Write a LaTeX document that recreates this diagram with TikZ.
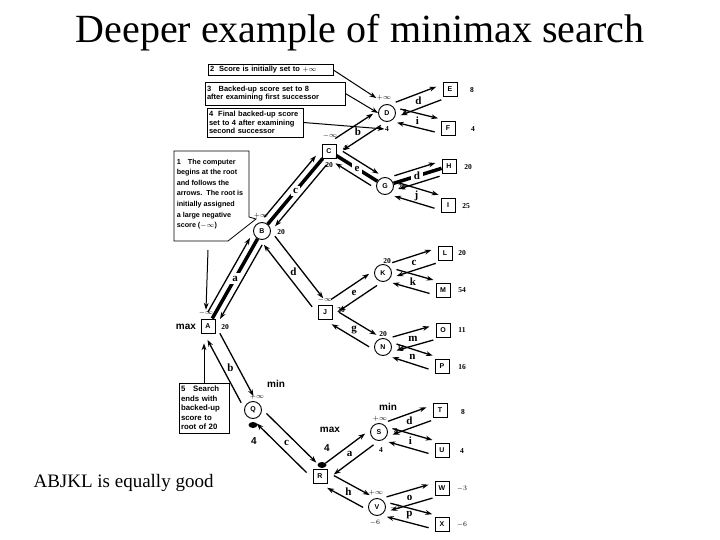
\documentclass[tikz,border=0pt]{standalone}
\usepackage{fontspec}
\setmainfont{Liberation Serif}
\setsansfont{Liberation Sans}
\usetikzlibrary{calc,arrows.meta}

\begin{document}
\begin{tikzpicture}[x=1pt,y=-1pt,
  >={Stealth[length=2.4mm,width=1.7mm]},
  sq/.style={draw,line width=0.9pt,minimum size=14pt,inner sep=0pt,font=\sffamily\bfseries\fontsize{7}{7}\selectfont},
  ci/.style={draw,circle,line width=0.9pt,minimum size=17pt,inner sep=0pt,font=\sffamily\bfseries\fontsize{7}{7}\selectfont},
  val/.style={inner sep=0.5pt,font=\bfseries\fontsize{7.5}{8}\selectfont},
  elab/.style={fill=white,inner sep=2.5pt,font=\bfseries\fontsize{11}{11}\selectfont},
  note/.style={draw,line width=0.8pt,fill=white,inner sep=2pt,align=left,font=\sffamily\bfseries\fontsize{7.5}{8.5}\selectfont},
  hand/.style={inner sep=0pt,font=\sffamily\bfseries\fontsize{10}{10}\selectfont},
  ar/.style={->,line width=1.3pt},
  ptr/.style={->,line width=1pt},
  best/.style={line width=3.5pt}
]
\fill[white] (0,0) rectangle (720,540);
\useasboundingbox (0,0) rectangle (720,540);

% titles
\node[font=\fontsize{40}{44}\selectfont] (title) at (360,33) {Deeper example of minimax search};
\node[anchor=west,font=\fontsize{19}{22}\selectfont] (remark) at (30,483) {ABJKL is equally good};

% CALLOUT 1 (drawn first, the tree lies over its corner)
\draw[line width=0.8pt,fill=white] (174,151) -- (249,151) -- (249,217) -- (256,219) -- (228,241) -- (174,241) -- cycle;
\node[align=left,inner sep=0pt,font=\sffamily\bfseries\fontsize{7.2}{10.6}\selectfont] (n1) at (210,194)
  {1\quad The computer\\begins at the root\\and follows the\\arrows.\ \ The root is\\initially assigned\\a large negative\\score ($-\infty$)};

% TREE: squares are max nodes, circles are min nodes
\node[sq] (A) at (208,326) {A};
\node[ci] (B) at (262,231) {B};
\node[sq] (C) at (329,151) {C};
\node[ci] (D) at (387,113) {D};
\node[sq] (E) at (450,89) {E};
\node[sq] (F) at (448,128) {F};
\node[ci] (G) at (385,186) {G};
\node[sq] (H) at (449,166) {H};
\node[sq] (I) at (448,205) {I};
\node[sq] (J) at (325,312) {J};
\node[ci] (K) at (383,273) {K};
\node[sq] (L) at (445,253) {L};
\node[sq] (M) at (443,290) {M};
\node[ci] (N) at (383,347) {N};
\node[sq] (O) at (443,330) {O};
\node[sq] (P) at (442,366) {P};
\node[ci] (Q) at (253,410) {Q};
\node[sq] (R) at (320,476) {R};
\node[ci] (S) at (379,432) {S};
\node[sq] (T) at (440,410) {T};
\node[sq] (U) at (442,450) {U};
\node[ci] (V) at (377,507) {V};
\node[sq] (W) at (442,488) {W};
\node[sq] (X) at (442,524) {X};

% backed-up values
\node[val] (Ainf) at (206,313) {$-\infty$}; \node[val] (Aval) at (225,327) {20};
\node[val] (Binf) at (261,216) {$+\infty$}; \node[val] (Bval) at (281,232) {20};
\node[val] (Cinf) at (330,136) {$-\infty$}; \node[val] (Cval) at (329,165) {20}; \node[val] (Cnew) at (345,148) {4};
\node[val] (Dinf) at (384,98) {$+\infty$}; \node[val] (Dfst) at (405,112) {8}; \node[val] (Dval) at (387,129) {4};
\node[val] (Gval) at (402,187) {20};
\node[val] (Jinf) at (325,300) {$-\infty$}; \node[val] (Jval) at (341,310) {20};
\node[val] (Kval) at (387,261) {20};
\node[val] (Nval) at (383,334) {20}; \node[val] (Nnew) at (401,348) {11};
\node[val] (Qinf) at (257,397) {$+\infty$};
\node[val] (Sinf) at (380,419) {$+\infty$}; \node[val] (Sfst) at (396,431) {8}; \node[val] (Sval) at (381,450) {4};
\node[val] (Vinf) at (376,493) {$+\infty$}; \node[val] (Vfst) at (395,508) {$-3$}; \node[val] (Vval) at (375,523) {$-6$};
% leaf scores
\node[val] (Eval) at (472,90) {8};   \node[val] (Fval) at (473,129) {4};
\node[val] (Hval) at (468,167) {20};  \node[val] (Ival) at (466,206) {25};
\node[val] (Lval) at (462,253) {20};  \node[val] (Mval) at (462,290) {54};
\node[val] (Oval) at (462,330) {11};  \node[val] (Pval) at (462,367) {16};
\node[val] (Tval) at (463,412) {8};   \node[val] (Uval) at (462,451) {4};
\node[val] (Wval) at (462,489) {$-3$}; \node[val] (Xval) at (462,525) {$-6$};

% pencil notes
\node[hand] (hA) at (186,327) {max};
\node[hand] (hQ) at (276,384) {min};
\node[hand] (hQ4) at (254,441) {4};
\node[hand] (hR) at (330,430) {max};
\node[hand] (hR4) at (327,448) {4};
\node[hand] (hS) at (388,407) {min};
\fill (253,425) ellipse (4.5 and 3);
\fill (322,465) ellipse (4.5 and 3);

% best line of play
\draw[best] (A) -- (B);
\draw[best] (B) -- (C);
\draw[best] (C) -- (G);
\draw[best] (G) -- (H);

% each branch: down arrow on one side, back-up arrow on the other
\foreach \from/\to/\lab in {A/B/a, A/Q/b, B/C/c, B/J/d, C/D/b, C/G/e, D/E/d, D/F/i,
    G/H/d, G/I/j, J/K/e, J/N/g, K/L/c, K/M/k, N/O/m, N/P/n,
    Q/R/c, R/S/a, R/V/h, S/T/d, S/U/i, V/W/o, V/X/p}{
  \node[elab] (l\from\to) at ($(\from)!0.5!(\to)$) {\lab};
  \coordinate (s\from\to) at ($(\from)!12pt!(\to)$);
  \coordinate (t\from\to) at ($(\to)!12pt!(\from)$);
  \draw[ar] let \p1=($(t\from\to)-(s\from\to)$), \n1={atan2(\y1,\x1)} in
    ($(s\from\to)+(\n1+90:7pt)$) -- ($(t\from\to)+(\n1+90:7pt)$);
  \draw[ar] let \p1=($(t\from\to)-(s\from\to)$), \n1={atan2(\y1,\x1)} in
    ($(t\from\to)+(\n1-90:7pt)$) -- ($(s\from\to)+(\n1-90:7pt)$);
}

% CALLOUTS 2-5
\coordinate (n1s) at (208,250);
\draw[ptr] (n1s) -- (Ainf.north);

\node[note,text width=121pt] (n2) at (270.5,70) {2\ \ Score is initially set to $+\infty$};
\node[note,text width=136pt,minimum height=23pt] (n3) at (275,93.5) {3\ \ \ Backed-up score set to 8\\after examining first successor};
\node[note,text width=92pt,minimum height=29pt] (n4) at (255,122.5) {4\ \ Final backed-up score\\set to 4 after examining\\second successor};
\draw[ptr] (n2.east) -- (Dinf.west);
\draw[ptr] (n3.east) -- (D.west);
\draw[ptr] (n4.east) -- (Dval.west);

\node[note,text width=46pt,minimum height=50pt,font=\sffamily\bfseries\fontsize{7.8}{9.4}\selectfont] (n5) at (204,408)
  {5\quad Search\\ends with\\backed-up\\score to\\root of 20};
\draw[ptr,shorten >=10pt] (n5.north) -- (n5.north |- A.south);
\end{tikzpicture}
\end{document}
